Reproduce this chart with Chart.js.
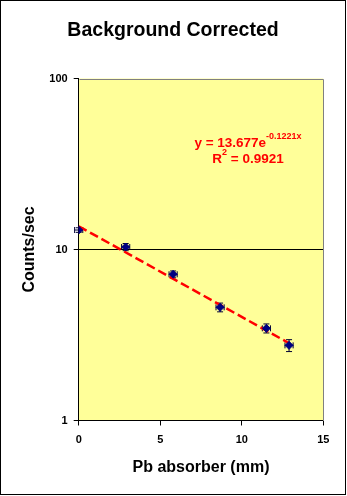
<!DOCTYPE html>
<html>
<head>
<meta charset="utf-8">
<script src="https://cdn.jsdelivr.net/npm/chart.js@4.4.1/dist/chart.umd.min.js"></script>
<style>
  html, body { margin: 0; padding: 0; background: #fff; }
  #wrap { position: relative; width: 347px; height: 496px; }
</style>
</head>
<body>
<div id="wrap"><canvas id="c" width="347" height="496"></canvas></div>
<script>
// Measured count rate vs. lead absorber thickness (background subtracted)
const thickness    = [0, 2.88, 5.79, 8.67, 11.51, 12.90];      // mm
const countRate    = [13.0, 10.34, 7.16, 4.59, 3.46, 2.75];   // counts/sec
const thicknessErr = [0.25, 0.25, 0.25, 0.25, 0.25, 0.25];
const rateErr      = [0.40, 0.50, 0.33, 0.27, 0.21, 0.22];

const xTicks = [0, 5, 10, 15];
const yTicks = [1, 10, 100];

// Exponential fit y = A e^(B x)
const fitA = 13.677;
const fitB = -0.1221;
const fitR2 = 0.9921;
const fitRange = [0, 12.9];

const chartTitle = 'Background Corrected';
const FONT = '"Liberation Sans", Arial, sans-serif';

const points = thickness.map((x, i) => ({ x: x, y: countRate[i] }));
// exponential is a straight line on a log axis: endpoints are enough
const fitLine = fitRange.map(x => ({ x: x, y: fitA * Math.exp(fitB * x) }));

const frame = {
  id: 'frame',
  beforeDraw(chart) {
    const { ctx, chartArea: a } = chart;
    ctx.save();
    ctx.fillStyle = '#FFFF99';
    ctx.fillRect(a.left, a.top, a.right - a.left, a.bottom - a.top);
    ctx.restore();
  },
  afterDraw(chart) {
    const { ctx, chartArea: a } = chart;
    ctx.save();
    // grey frame on the open sides of the plot area
    ctx.strokeStyle = '#808080';
    ctx.lineWidth = 1;
    ctx.beginPath();
    ctx.moveTo(Math.round(a.left) + 0.5, Math.round(a.top) + 0.5);
    ctx.lineTo(Math.round(a.right) + 0.5, Math.round(a.top) + 0.5);
    ctx.lineTo(Math.round(a.right) + 0.5, Math.round(a.bottom));
    ctx.stroke();
    // chart outline
    ctx.strokeStyle = '#000';
    ctx.strokeRect(0.5, 0.5, 345, 494);
    // centred heading
    ctx.fillStyle = '#000';
    ctx.font = 'bold 19.5px ' + FONT;
    ctx.textAlign = 'center';
    ctx.textBaseline = 'middle';
    ctx.fillText(chartTitle, 173, 31);
    ctx.restore();
  }
};

const errorBars = {
  id: 'errorBars',
  beforeDatasetsDraw(chart) {
    const { ctx, scales: { x: sx, y: sy } } = chart;
    ctx.save();
    ctx.strokeStyle = '#000033';
    ctx.lineWidth = 1;
    const cap = 3;
    thickness.forEach((xv, i) => {
      const yv = countRate[i];
      const px = sx.getPixelForValue(xv);
      const py = sy.getPixelForValue(yv);
      const x1 = sx.getPixelForValue(xv - thicknessErr[i]);
      const x2 = sx.getPixelForValue(xv + thicknessErr[i]);
      const y1 = sy.getPixelForValue(yv + rateErr[i]);
      const y2 = sy.getPixelForValue(yv - rateErr[i]);
      ctx.beginPath();
      ctx.moveTo(x1, py); ctx.lineTo(x2, py);
      ctx.moveTo(x1, py - cap); ctx.lineTo(x1, py + cap);
      ctx.moveTo(x2, py - cap); ctx.lineTo(x2, py + cap);
      ctx.moveTo(px, y1); ctx.lineTo(px, y2);
      ctx.moveTo(px - cap, y1); ctx.lineTo(px + cap, y1);
      ctx.moveTo(px - cap, y2); ctx.lineTo(px + cap, y2);
      ctx.stroke();
    });
    ctx.restore();
  }
};

const fitLabel = {
  id: 'fitLabel',
  afterDatasetsDraw(chart) {
    const { ctx } = chart;
    ctx.save();
    ctx.fillStyle = '#FF0000';
    ctx.textBaseline = 'alphabetic';
    ctx.textAlign = 'left';
    const big = 'bold 13.5px ' + FONT;
    const small = 'bold 9px ' + FONT;
    const cx = 248;

    const eqMain = 'y = ' + fitA.toFixed(3) + 'e';
    const eqSup = fitB.toFixed(4) + 'x';
    ctx.font = big; const w1 = ctx.measureText(eqMain).width;
    ctx.font = small; const w2 = ctx.measureText(eqSup).width;
    let x0 = cx - (w1 + w2) / 2;
    ctx.font = big; ctx.fillText(eqMain, x0, 146.5);
    ctx.font = small; ctx.fillText(eqSup, x0 + w1, 139);

    const rA = 'R', rSup = '2', rB = ' = ' + fitR2.toFixed(4);
    ctx.font = big; const wa = ctx.measureText(rA).width, wb = ctx.measureText(rB).width;
    ctx.font = small; const ws = ctx.measureText(rSup).width;
    x0 = cx - (wa + ws + wb) / 2;
    ctx.font = big; ctx.fillText(rA, x0, 162.5);
    ctx.font = small; ctx.fillText(rSup, x0 + wa, 155);
    ctx.font = big; ctx.fillText(rB, x0 + wa + ws, 162.5);
    ctx.restore();
  }
};

new Chart(document.getElementById('c'), {
  data: {
    datasets: [
      {
        type: 'scatter',
        label: 'Counts/sec',
        data: points,
        pointStyle: 'rectRot',
        pointRadius: 4,
        backgroundColor: '#000080',
        borderColor: '#000080',
        borderWidth: 1,
        order: 0
      },
      {
        type: 'line',
        label: 'Expon. fit',
        data: fitLine,
        borderColor: '#FF0000',
        borderWidth: 2.5,
        borderDash: [9, 4],
        pointRadius: 0,
        fill: false,
        order: 1
      }
    ]
  },
  plugins: [frame, errorBars, fitLabel],
  options: {
    responsive: false,
    animation: false,
    devicePixelRatio: 1,
    layout: { padding: { left: 0, right: 23.7, top: 78.5, bottom: 0 } },
    plugins: {
      legend: { display: false },
      tooltip: { enabled: false },
      title: { display: false }
    },
    scales: {
      x: {
        type: 'linear',
        min: 0, max: 15,
        afterBuildTicks: s => { s.ticks = xTicks.map(v => ({ value: v })); },
        afterFit: s => { s.height = 75.5; },
        grid: { drawOnChartArea: false, drawTicks: true, tickLength: 5, tickColor: '#000', tickWidth: 1 },
        border: { display: true, color: '#000', width: 1 },
        ticks: { color: '#000', font: { family: FONT, size: 11, weight: 'bold' }, padding: 8, maxRotation: 0 },
        title: {
          display: true, text: 'Pb absorber (mm)', color: '#000',
          font: { family: FONT, size: 16, weight: 'bold' },
          padding: { top: 0, bottom: 19 }
        }
      },
      y: {
        type: 'logarithmic',
        min: 1, max: 100,
        afterBuildTicks: s => { s.ticks = yTicks.map(v => ({ value: v })); },
        afterFit: s => { s.width = 78.7; },
        grid: {
          color: ctx => (ctx.tick && ctx.tick.value === 10) ? '#000' : 'rgba(0,0,0,0)',
          lineWidth: 1,
          drawTicks: true, tickLength: 5, tickColor: '#000', tickWidth: 1
        },
        border: { display: true, color: '#000', width: 1 },
        ticks: {
          color: '#000', font: { family: FONT, size: 11, weight: 'bold' }, padding: 6,
          callback: v => String(v)
        },
        title: {
          display: true, text: 'Counts/sec', color: '#000',
          font: { family: FONT, size: 16, weight: 'bold' },
          padding: { top: 20, bottom: 0 }
        }
      }
    }
  }
});
</script>
</body>
</html>
